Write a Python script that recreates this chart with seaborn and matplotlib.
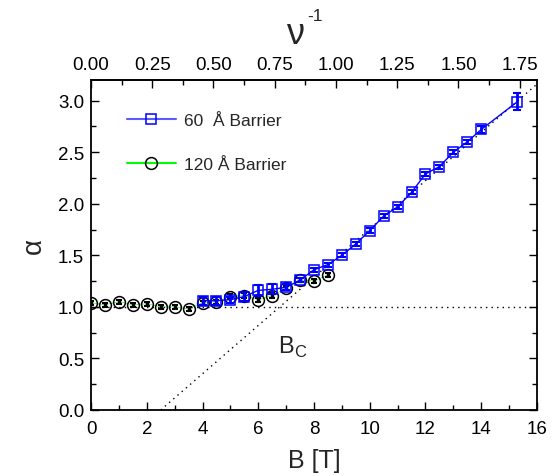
import numpy as np
import pandas as pd
import matplotlib
matplotlib.use("Agg")
import matplotlib.pyplot as plt
import seaborn as sns
from matplotlib.ticker import MultipleLocator, FixedLocator, FormatStrFormatter

# 120 A barrier sample (black circles)
B_120 = [0.0, 0.5, 1.0, 1.5, 2.0, 2.5, 3.0, 3.5, 4.0, 4.5, 5.0, 5.5, 6.0, 6.5, 7.0, 7.5, 8.0, 8.5]
alpha_120 = [1.04, 1.02, 1.05, 1.02, 1.03, 1.00, 1.00, 0.98, 1.04, 1.05, 1.10, 1.11,
             1.07, 1.11, 1.18, 1.26, 1.25, 1.31]
err_120 = [0.02] * len(B_120)

# 60 A barrier sample (blue squares)
B_60 = [4.0, 4.5, 5.0, 5.5, 6.0, 6.5, 7.0, 7.5, 8.0, 8.5, 9.0, 9.5, 10.0, 10.5,
        11.0, 11.5, 12.0, 12.5, 13.0, 13.5, 14.0, 15.3]
alpha_60 = [1.06, 1.06, 1.07, 1.10, 1.16, 1.17, 1.19, 1.26, 1.36, 1.41, 1.50, 1.61,
            1.74, 1.88, 1.97, 2.11, 2.29, 2.36, 2.50, 2.60, 2.72, 2.99]
err_60 = [0.04, 0.04, 0.03, 0.04, 0.05, 0.05, 0.03, 0.02, 0.02, 0.02, 0.02, 0.02,
          0.02, 0.02, 0.02, 0.02, 0.02, 0.02, 0.02, 0.02, 0.03, 0.08]

# guide lines
unity_B = [0.0, 16.0]
unity_alpha = [1.0, 1.0]
bc_B = [2.5, 16.0]
bc_alpha = [0.0, 3.16]

# top axis ticks, B -> nu^-1 conversion (1.75 at ~15.38 T)
nu_ticks = [0.0, 0.25, 0.5, 0.75, 1.0, 1.25, 1.5, 1.75]
nu_per_B = 1.75 / 15.38

df60 = pd.DataFrame({"B": B_60, "alpha": alpha_60, "err": err_60})
df120 = pd.DataFrame({"B": B_120, "alpha": alpha_120, "err": err_120})

sns.set_theme(style="ticks")
plt.rcParams["font.family"] = ["Liberation Sans", "DejaVu Sans"]

fig = plt.figure(figsize=(5.53, 4.77), dpi=100)
ax = fig.add_axes([0.1646, 0.1384, 0.8064, 0.6918])

ax.plot(unity_B, unity_alpha, color="black", ls=(0, (1, 3)), lw=1.0, zorder=1)
ax.plot(bc_B, bc_alpha, color="black", ls=(0, (1, 3)), lw=1.0, zorder=1)

sns.lineplot(data=df120, x="B", y="alpha", ax=ax, color="#00ff00", lw=0.4,
             marker="o", markersize=8.5, markerfacecolor="none",
             markeredgecolor="black", markeredgewidth=1.1,
             label="120 Å Barrier", zorder=2)
ax.errorbar(df120["B"], df120["alpha"], yerr=df120["err"], fmt="none",
            ecolor="black", elinewidth=2.5, capsize=2, capthick=1.5, zorder=2)

sns.lineplot(data=df60, x="B", y="alpha", ax=ax, color="blue", lw=1.0,
             marker="s", markersize=7, markerfacecolor="none",
             markeredgecolor="blue", markeredgewidth=1.1,
             label="60  Å Barrier", zorder=3)
ax.errorbar(df60["B"], df60["alpha"], yerr=df60["err"], fmt="none",
            ecolor="blue", elinewidth=2.0, capsize=3, capthick=1.5, zorder=3)

ax.set_xlim(0, 16)
ax.set_ylim(0, 3.2)
ax.xaxis.set_major_locator(MultipleLocator(2))
ax.xaxis.set_minor_locator(MultipleLocator(1))
ax.yaxis.set_major_locator(MultipleLocator(0.5))
ax.yaxis.set_minor_locator(MultipleLocator(0.25))
ax.yaxis.set_major_formatter(FormatStrFormatter("%.1f"))

for s in ax.spines.values():
    s.set_visible(True)
    s.set_linewidth(1.3)
    s.set_color("black")

ax.tick_params(which="both", direction="in", right=True, top=False, colors="black",
               labelsize=13.5)
ax.tick_params(which="major", length=6, width=1.0)
ax.tick_params(which="minor", length=3.5, width=1.0)
ax.tick_params(axis="x", pad=7)
ax.tick_params(axis="y", pad=5)

top = ax.secondary_xaxis("top", functions=(lambda b: b * nu_per_B, lambda n: n / nu_per_B))
top.xaxis.set_major_locator(FixedLocator(nu_ticks))
top.xaxis.set_minor_locator(FixedLocator([t + 0.125 for t in nu_ticks[:-1]]))
top.xaxis.set_major_formatter(FormatStrFormatter("%.2f"))
top.tick_params(which="both", direction="in", labelsize=13.5, pad=5, colors="black")
top.tick_params(which="major", length=6, width=1.0)
top.tick_params(which="minor", length=3.5, width=1.0)
top.spines["top"].set_linewidth(1.3)

ax.set_xlabel("B [T]", fontsize=18, labelpad=8)
ax.set_ylabel("α", fontsize=20, labelpad=8)
fig.text(0.533, 0.928, "ν", fontsize=26, ha="center", va="center")
fig.text(0.570, 0.965, "-1", fontsize=12.5, ha="center", va="center")

ax.text(6.7, 0.62, "B$_\\mathregular{C}$", fontsize=17, ha="left", va="center")

# legend with 60 A first
handles, labels = ax.get_legend_handles_labels()
leg = ax.legend(handles[::-1], labels[::-1], loc="upper left",
                bbox_to_anchor=(0.081, 0.90), frameon=False, fontsize=12.5,
                handlelength=2.8, handletextpad=0.5, labelspacing=1.65,
                borderpad=0, borderaxespad=0)
leg_lines = leg.get_lines()
leg_lines[0].set_color("#5a5aff")
leg_lines[0].set_markeredgecolor("blue")
leg_lines[0].set_linewidth(1.5)
leg_lines[1].set_color("#00ff00")
leg_lines[1].set_markeredgecolor("black")
leg_lines[1].set_linewidth(1.5)

fig.savefig("out.png", dpi=100)
